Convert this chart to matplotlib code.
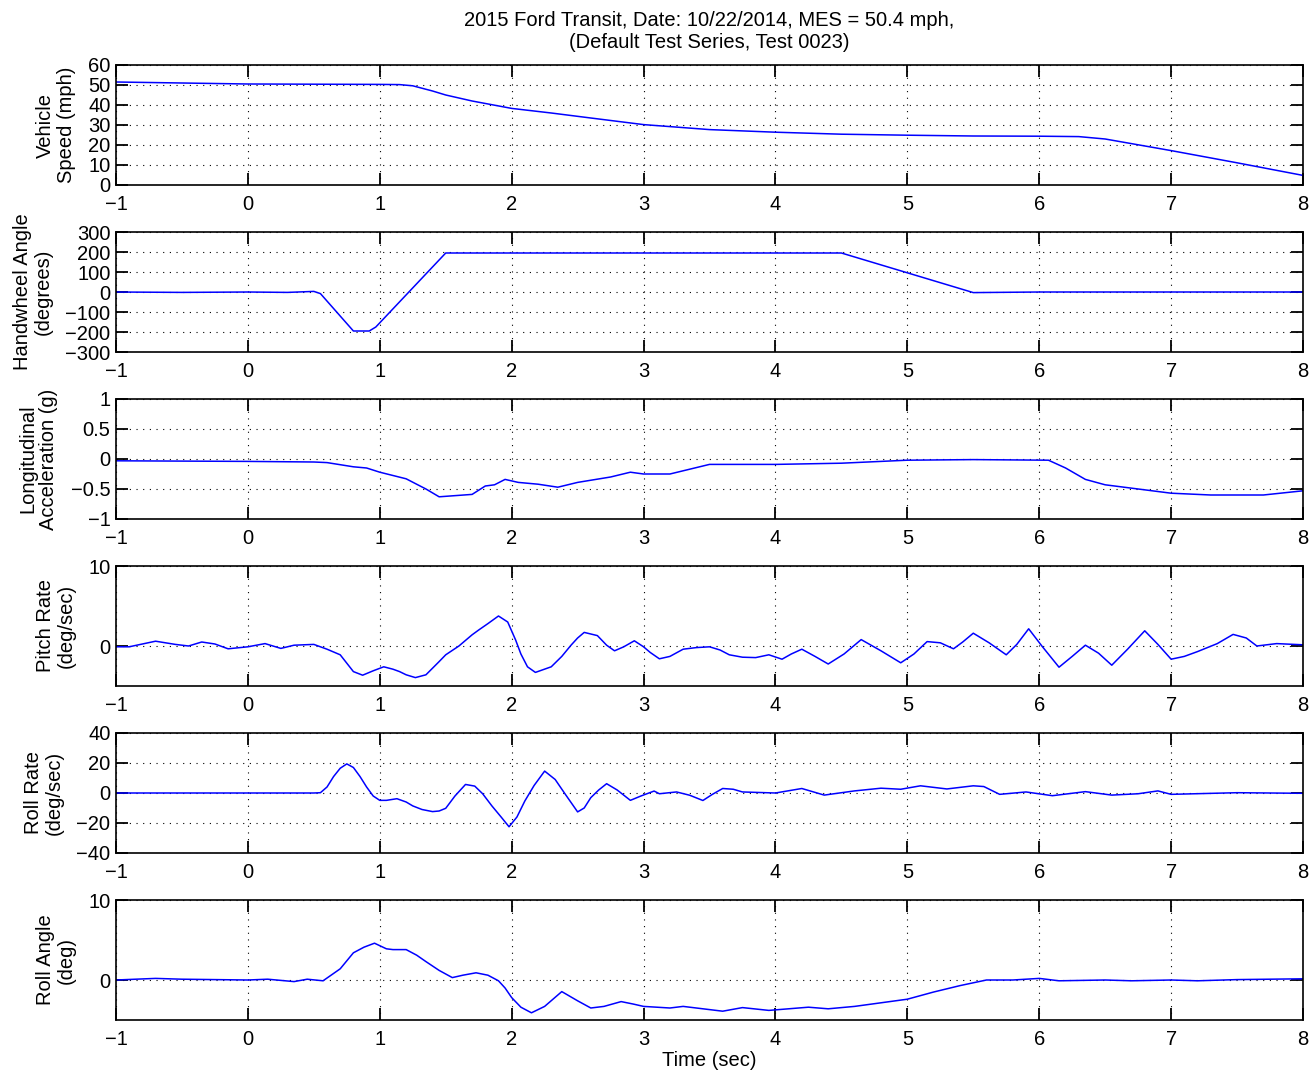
import matplotlib
matplotlib.use("Agg")
import matplotlib.pyplot as plt

plt.rcParams['font.family'] = ['Liberation Sans', 'DejaVu Sans']

# ------------------------------------------------------------------------------
# Data (time in sec)
# ------------------------------------------------------------------------------
speedT = [-1, -0.5, 0, 0.5, 1.0, 1.15, 1.25, 1.4, 1.5, 1.7, 2.0, 2.3, 2.6, 3.0,
          3.5, 4.0, 4.5, 5.0, 5.5, 6.0, 6.3, 6.5, 7.0, 7.5, 8.0]
speedV = [51.5, 51, 50.5, 50.4, 50.3, 50.2, 49.6, 47, 45, 42, 38.3, 36, 33.5, 30.2,
          27.7, 26.4, 25.4, 24.9, 24.5, 24.4, 24.2, 23, 17.2, 11.1, 4.8]

hwT = [-1, -0.5, 0, 0.3, 0.5, 0.55, 0.8, 0.92, 0.97, 1.5, 4.5, 5.5, 6, 7, 8]
hwV = [0, -2, 0, -2, 3, -8, -195, -195, -175, 195, 195, -3, 0, 0, 0]

axT = [-1, 0, 0.5, 0.6, 0.8, 0.9, 1.0, 1.2, 1.35, 1.45, 1.7, 1.8, 1.87, 1.95, 2.05,
       2.2, 2.35, 2.5, 2.75, 2.9, 3.0, 3.2, 3.35, 3.5, 4.0, 4.5, 5.0, 5.5, 6.07,
       6.2, 6.35, 6.5, 7.0, 7.3, 7.7, 8.0]
axV = [-0.03, -0.04, -0.05, -0.06, -0.13, -0.15, -0.22, -0.33, -0.5, -0.63, -0.59,
       -0.45, -0.43, -0.34, -0.39, -0.42, -0.47, -0.39, -0.3, -0.22, -0.25, -0.25,
       -0.17, -0.09, -0.09, -0.07, -0.02, -0.01, -0.02, -0.15, -0.34, -0.43, -0.57,
       -0.6, -0.6, -0.53]

pitchT = [-1, -0.9, -0.7, -0.55, -0.45, -0.35, -0.25, -0.15, 0, 0.13, 0.25, 0.35,
          0.5, 0.6, 0.7, 0.8, 0.87, 0.95, 1.03, 1.1, 1.15, 1.2, 1.27, 1.35, 1.45,
          1.5, 1.6, 1.7, 1.75, 1.82, 1.9, 1.97, 2.03, 2.07, 2.12, 2.18, 2.3, 2.38,
          2.45, 2.5, 2.55, 2.65, 2.72, 2.78, 2.85, 2.93, 3.0, 3.05, 3.12, 3.2, 3.3,
          3.4, 3.5, 3.58, 3.65, 3.75, 3.85, 3.95, 4.05, 4.12, 4.2, 4.3, 4.4, 4.52,
          4.65, 4.8, 4.95, 5.05, 5.15, 5.25, 5.35, 5.42, 5.5, 5.62, 5.75, 5.83, 5.92,
          6.02, 6.15, 6.25, 6.35, 6.45, 6.55, 6.67, 6.8, 6.9, 7.0, 7.1, 7.2, 7.35,
          7.47, 7.57, 7.65, 7.7, 7.8, 8.0]
pitchV = [-0.1, -0.1, 0.6, 0.2, 0.0, 0.5, 0.25, -0.35, -0.1, 0.3, -0.3, 0.1,
          0.2, -0.4, -1.1, -3.2, -3.65, -3.1, -2.6, -2.9, -3.2, -3.6, -3.95, -3.6, -1.95,
          -1.1, 0, 1.4, 2.0, 2.8, 3.75, 3.0, 0.75, -1.0, -2.6, -3.3, -2.6, -1.3,
          0.1, 1.0, 1.7, 1.3, 0.1, -0.6, -0.1, 0.65, -0.1, -0.8, -1.6, -1.3, -0.4,
          -0.2, -0.1, -0.5, -1.1, -1.4, -1.45, -1.1, -1.65, -1.0, -0.4, -1.3, -2.25, -1.0,
          0.8, -0.6, -2.1, -1.0, 0.55, 0.4, -0.35, 0.5, 1.6, 0.4, -1.1, 0.2, 2.15,
          0.0, -2.65, -1.3, 0.1, -0.9, -2.4, -0.4, 1.9, 0.2, -1.65, -1.3, -0.7, 0.3,
          1.45, 1.0, 0, 0.1, 0.3, 0.15]

rollRT = [-1, 0, 0.5, 0.55, 0.6, 0.65, 0.7, 0.75, 0.8, 0.85, 0.9, 0.95, 1.0, 1.05,
          1.13, 1.2, 1.25, 1.32, 1.4, 1.45, 1.5, 1.57, 1.65, 1.72, 1.78, 1.85, 1.92,
          1.98, 2.04, 2.1, 2.17, 2.25, 2.33, 2.4, 2.5, 2.55, 2.6, 2.66, 2.72, 2.8,
          2.9, 2.98, 3.08, 3.12, 3.25, 3.35, 3.45, 3.52, 3.6, 3.68, 3.75, 4.0, 4.2,
          4.37, 4.6, 4.8, 4.95, 5.1, 5.3, 5.5, 5.58, 5.7, 5.9, 6.1, 6.35, 6.55, 6.75,
          6.9, 7.0, 7.5, 8.0]
rollRV = [0, 0, 0, 0.2, 4, 11, 16.5, 19.4, 17, 11, 4, -2, -4.9, -4.9,
          -3.8, -6, -8.6, -11, -12.4, -12, -10.2, -2, 5.7, 4.6, -0.5, -8.6, -16,
          -22.5, -16, -5.3, 5, 14.6, 9, 0, -12.6, -10, -3.1, 2, 6.2, 2,
          -4.9, -2, 1.3, -0.5, 0.7, -1.5, -5, -1, 3, 2.5, 0.7, 0, 3,
          -1.4, 1.4, 3.2, 2.5, 4.8, 2.7, 4.8, 4.3, -0.9, 0.7, -1.8, 0.9, -1.4, -0.5,
          1.4, -0.9, 0.2, -0.2]

rollAT = [-1, -0.7, -0.5, 0, 0.15, 0.35, 0.45, 0.57, 0.7, 0.75, 0.8, 0.88, 0.96,
          1.05, 1.1, 1.2, 1.28, 1.35, 1.45, 1.55, 1.63, 1.73, 1.82, 1.9, 1.95, 2.0,
          2.07, 2.15, 2.25, 2.38, 2.5, 2.6, 2.7, 2.83, 2.92, 3.0, 3.2, 3.3, 3.6, 3.75,
          3.95, 4.25, 4.4, 4.6, 5.0, 5.2, 5.4, 5.6, 5.8, 6.0, 6.15, 6.5, 6.7, 7.0, 7.2,
          7.5, 8.0]
rollAV = [0, 0.2, 0.1, 0, 0.1, -0.2, 0.1, -0.1, 1.4, 2.4, 3.4, 4.1, 4.6,
          3.9, 3.8, 3.8, 3.1, 2.3, 1.2, 0.3, 0.6, 0.9, 0.6, -0.1, -1.0, -2.2,
          -3.4, -4.1, -3.3, -1.45, -2.6, -3.5, -3.3, -2.7, -3.0, -3.3, -3.5, -3.3, -3.9, -3.45,
          -3.8, -3.4, -3.6, -3.3, -2.4, -1.5, -0.7, 0, 0, 0.2, -0.1, 0, -0.1, 0, -0.1,
          0.05, 0.15]

panels = [
    (speedT, speedV, 'Vehicle\nSpeed (mph)', (0, 60), [0, 10, 20, 30, 40, 50, 60]),
    (hwT, hwV, 'Handwheel Angle\n(degrees)', (-300, 300), [-300, -200, -100, 0, 100, 200, 300]),
    (axT, axV, 'Longitudinal\nAcceleration (g)', (-1, 1), [-1, -0.5, 0, 0.5, 1]),
    (pitchT, pitchV, 'Pitch Rate\n(deg/sec)', (-5, 10), [0, 10]),
    (rollRT, rollRV, 'Roll Rate\n(deg/sec)', (-40, 40), [-40, -20, 0, 20, 40]),
    (rollAT, rollAV, 'Roll Angle\n(deg)', (-5, 10), [0, 10]),
]

# ------------------------------------------------------------------------------
# Make output plot
# ------------------------------------------------------------------------------
W, H = 1312, 1075
fs = 14.5
fig = plt.figure(figsize=(W / 100, H / 100), dpi=100)

axLeft = 116 / W
axWidth = 1187 / W
axHeight = 120 / H

for i, (t, v, lab, ylim, yticks) in enumerate(panels):
    top = 65 + 167 * i
    ax = fig.add_axes([axLeft, 1 - (top + 120) / H, axWidth, axHeight])
    ax.plot(t, v, color='#0000ff', linewidth=1.1)
    ax.set_xlim(-1, 8)
    ax.set_ylim(*ylim)
    ax.set_xticks(range(-1, 9))
    ax.set_yticks(yticks)
    ax.set_yticklabels([('%g' % y).replace('-', '\u2212') for y in yticks])
    ax.grid(True, color='black', linestyle=(0, (1, 5)), linewidth=0.8)
    ax.tick_params(direction='in', length=8.5, width=1.3, top=True, right=True,
                   labelsize=fs)
    ax.tick_params(axis='x', pad=7)
    ax.tick_params(axis='y', pad=4)
    for s in ax.spines.values():
        s.set_linewidth(1.2)
    ax.set_ylabel(lab, fontsize=fs, linespacing=1.1, labelpad=9)
    if i == 0:
        ax.set_title('2015 Ford Transit, Date: 10/22/2014, MES = 50.4 mph,\n'
                     '(Default Test Series, Test 0023)', fontsize=fs,
                     linespacing=1.2, pad=12)
    if i == len(panels) - 1:
        ax.set_xlabel('Time (sec)', fontsize=fs, labelpad=2)

fig.savefig('out.png', dpi=100)
